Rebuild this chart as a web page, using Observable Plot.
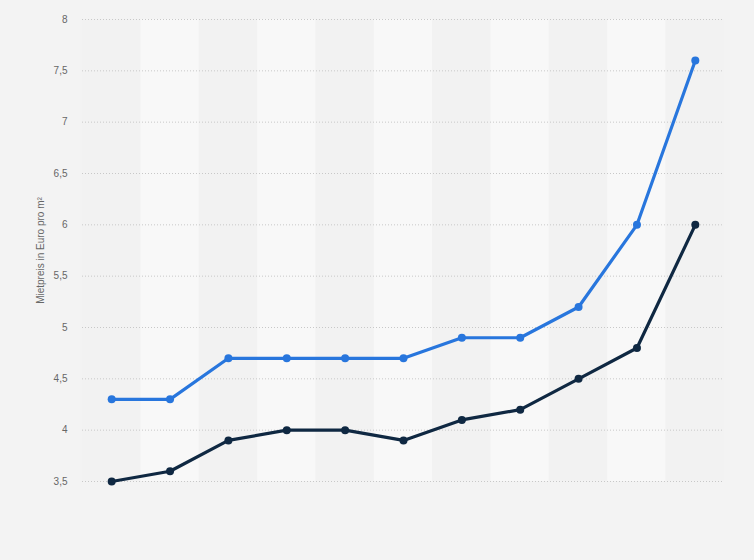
<!DOCTYPE html>
<html>
<head>
<meta charset="utf-8">
<script src="https://cdn.jsdelivr.net/npm/d3@7"></script>
<script src="https://cdn.jsdelivr.net/npm/@observablehq/plot@0.6"></script>
<style>
  html, body { margin: 0; padding: 0; background: #f3f3f3; }
  #chart svg { display: block; }
</style>
</head>
<body>
<div id="chart"></div>
<script>
const categories = ["1","2","3","4","5","6","7","8","9","10","11"];
const seriesA = [4.3, 4.3, 4.7, 4.7, 4.7, 4.7, 4.9, 4.9, 5.2, 6.0, 7.6];
const seriesB = [3.5, 3.6, 3.9, 4.0, 4.0, 3.9, 4.1, 4.2, 4.5, 4.8, 6.0];
const yTicks = [3.5, 4, 4.5, 5, 5.5, 6, 6.5, 7, 7.5, 8];

const rowsA = categories.map((c, i) => ({x: c, y: seriesA[i]}));
const rowsB = categories.map((c, i) => ({x: c, y: seriesB[i]}));
const bands = categories.map((c, i) => ({x: c, odd: i % 2 === 1}));

const fmt = v => String(v).replace(".", ",");

const chart = Plot.plot({
  width: 754,
  height: 560,
  marginLeft: 82,
  marginRight: 30,
  marginTop: 19,
  marginBottom: 79,
  style: {background: "transparent", fontFamily: "Liberation Sans, Arial, sans-serif", fontSize: "10px", color: "#666"},
  x: {domain: categories, padding: 0, round: false, axis: null},
  y: {domain: [3.5, 8], ticks: yTicks, tickFormat: fmt, tickSize: 0, tickPadding: 15, label: null},
  marks: [
    Plot.barY(bands, {x: "x", y1: 3.5, y2: 8, fill: d => d.odd ? "#f8f8f8" : "#f2f2f2", inset: 0}),
    Plot.gridY(yTicks, {stroke: "#c8c8c8", strokeOpacity: 1, strokeDasharray: "1,2", strokeWidth: 1}),
    Plot.axisY({ticks: yTicks, tickFormat: fmt, tickSize: 0, tickPadding: 15, fill: "#666", label: null}),
    Plot.text(["Mietpreis in Euro pro m²"], {frameAnchor: "left", textAnchor: "middle", dx: -42, rotate: -90, fill: "#666", fontSize: 10}),
    Plot.line(rowsA, {x: "x", y: "y", stroke: "#2876dd", strokeWidth: 3.2}),
    Plot.dot(rowsA, {x: "x", y: "y", r: 4, fill: "#2876dd"}),
    Plot.line(rowsB, {x: "x", y: "y", stroke: "#0f2842", strokeWidth: 3.2}),
    Plot.dot(rowsB, {x: "x", y: "y", r: 4, fill: "#0f2842"})
  ]
});
document.getElementById("chart").appendChild(chart);
</script>
</body>
</html>
